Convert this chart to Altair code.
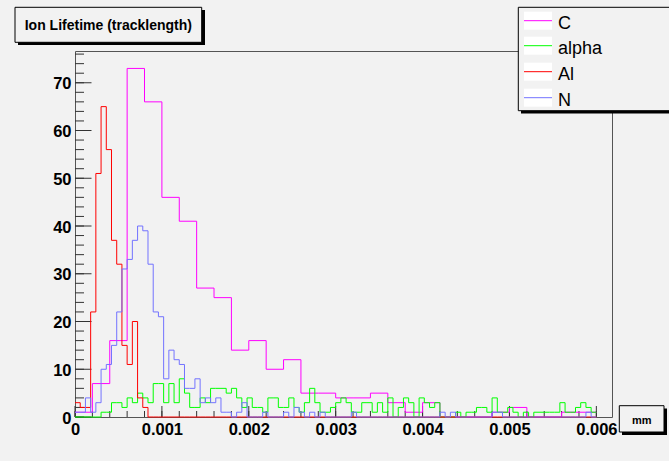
import altair as alt
import pandas as pd

# ---------------- data ----------------
series_names = ["C", "alpha", "Al", "N"]
series_colors = ["#ff00ff", "#00ff00", "#ff0000", "#7373ff"]

c_bin_width = 0.0002      # 30 bins on [0, 0.006]
fine_bin_width = 0.00006  # 100 bins on [0, 0.006]

c_counts = [1, 7, 16, 73, 66, 46, 41, 27, 25, 14,
            16, 10, 12, 5, 5, 4, 4, 5, 3, 1,
            3, 0, 0, 0, 1, 2, 0, 0, 1, 1]

alpha_counts = [0, 0, 0, 0, 0, 1, 1, 3, 3, 2,
                4, 3, 5, 4, 3, 7, 7, 3, 7, 3,
                8, 5, 2, 2, 4, 3, 6, 6, 6, 5,
                6, 4, 2, 4, 2, 2, 1, 4, 4, 2,
                2, 4, 2, 1, 3, 6, 3, 1, 1, 2,
                3, 4, 3, 1, 1, 3, 3, 1, 3, 1,
                4, 0, 2, 4, 3, 0, 4, 3, 2, 3,
                0, 0, 0, 1, 0, 1, 1, 2, 2, 1,
                4, 1, 1, 2, 1, 0, 1, 0, 1, 1,
                1, 1, 1, 3, 1, 1, 2, 3, 2, 1]

al_counts = [3, 2, 2, 22, 51, 65, 56, 37, 32, 15,
             11, 20, 4, 2, 0, 0, 0, 0, 0, 0,
             0, 0, 0, 0, 0, 0, 0, 0, 0, 0,
             0, 0, 0, 0, 0, 0, 0, 0, 0, 0,
             0, 0, 0, 0, 0, 0, 0, 0, 0, 0,
             0, 0, 0, 0, 0, 0, 0, 0, 0, 0,
             0, 0, 0, 0, 0, 0, 0, 0, 0, 0,
             0, 0, 0, 0, 0, 0, 0, 0, 0, 0,
             0, 0, 0, 0, 0, 0, 0, 0, 0, 0,
             0, 0, 0, 0, 0, 0, 0, 0, 0, 0]

n_counts = [1, 1, 4, 1, 3, 10, 11, 15, 22, 31,
            33, 37, 40, 39, 32, 22, 21, 8, 14, 12,
            11, 6, 6, 8, 3, 4, 3, 4, 1, 1,
            0, 1, 3, 0, 0, 0, 1, 0, 0, 0,
            1, 0, 2, 1, 0, 1, 0, 1, 0, 0,
            0, 0, 0, 1, 0, 0, 0, 0, 0, 0,
            0, 0, 0, 0, 0, 0, 0, 0, 0, 0,
            1, 0, 1, 0, 0, 0, 0, 0, 0, 0,
            1, 1, 0, 0, 0, 0, 0, 0, 0, 0,
            0, 0, 0, 0, 0, 0, 0, 0, 1, 0]

x_tick_labels = [0, 0.001, 0.002, 0.003, 0.004, 0.005, 0.006]
x_minor_ticks = [round(i * 0.0002, 4) for i in range(31)]
y_tick_labels = [0, 10, 20, 30, 40, 50, 60, 70]
y_minor_ticks = list(range(0, 77, 2))

title_text = "Ion Lifetime (tracklength)"
x_unit_text = "mm"

x_max = 0.00618
y_max = 76.65

# ---------------- layout constants ----------------
W, H = 537, 366
FONT = "Liberation Sans"
BG = "#f2f2f2"

xscale = alt.Scale(domain=[0, x_max], nice=False, zero=False)
yscale = alt.Scale(domain=[0, y_max], nice=False, zero=False)

xaxis = alt.Axis(values=x_tick_labels, format=".3~f", title=None, ticks=False,
                 tickSize=0, domain=False, grid=False, labelFont=FONT,
                 labelFontWeight="bold", labelFontSize=16.5, labelColor="black",
                 labelPadding=17, labelBaseline="alphabetic", labelFlush=False,
                 labelOverlap=False)
yaxis = alt.Axis(values=y_tick_labels, format="d", title=None, ticks=False,
                 tickSize=0, domain=False, grid=False, labelFont=FONT,
                 labelFontWeight="bold", labelFontSize=16.5, labelColor="black",
                 labelPadding=4, labelFlush=False, labelOverlap=False,
                 labelOffset=1)


def step_frame(name, counts, width):
    xs = [i * width for i in range(len(counts) + 1)]
    ys = list(counts) + [counts[-1]]
    return pd.DataFrame({"x": xs, "count": ys, "series": name})


layers = []

# ticks (inside the frame, ROOT style)
x_major_df = pd.DataFrame({"x": x_tick_labels})
x_minor_df = pd.DataFrame({"x": x_minor_ticks})
y_major_df = pd.DataFrame({"count": y_tick_labels})
y_minor_df = pd.DataFrame({"count": y_minor_ticks})

layers.append(alt.Chart(x_minor_df).mark_rule(color="#333333", strokeWidth=1).encode(
    x=alt.X("x:Q", scale=xscale, axis=xaxis), y=alt.value(H), y2=alt.value(H - 6)))
layers.append(alt.Chart(x_major_df).mark_rule(color="#333333", strokeWidth=1).encode(
    x=alt.X("x:Q", scale=xscale, axis=xaxis), y=alt.value(H), y2=alt.value(H - 11)))
layers.append(alt.Chart(y_minor_df).mark_rule(color="#333333", strokeWidth=1).encode(
    y=alt.Y("count:Q", scale=yscale, axis=yaxis), x=alt.value(0), x2=alt.value(9)))
layers.append(alt.Chart(y_major_df).mark_rule(color="#333333", strokeWidth=1).encode(
    y=alt.Y("count:Q", scale=yscale, axis=yaxis), x=alt.value(0), x2=alt.value(16.5)))

# histograms (drawn in legend order, N on top)
hist_data = [
    step_frame(series_names[0], c_counts, c_bin_width),
    step_frame(series_names[1], alpha_counts, fine_bin_width),
    step_frame(series_names[2], al_counts, fine_bin_width),
    step_frame(series_names[3], n_counts, fine_bin_width),
]
for df, col in zip(hist_data, series_colors):
    layers.append(alt.Chart(df).mark_line(interpolate="step-after", color=col,
                                          strokeWidth=1).encode(
        x=alt.X("x:Q", scale=xscale, axis=xaxis),
        y=alt.Y("count:Q", scale=yscale, axis=yaxis)))

one = pd.DataFrame({"k": [0]})


def rect(x1, y1, x2, y2, fill, stroke=None):
    kw = dict(fill=fill)
    if stroke:
        kw.update(stroke=stroke, strokeWidth=1)
    return alt.Chart(one).mark_rect(**kw).encode(
        x=alt.value(x1), x2=alt.value(x2), y=alt.value(y1), y2=alt.value(y2))


def text(x, y, s, size, weight="normal", align="left"):
    return alt.Chart(one).mark_text(align=align, baseline="alphabetic", font=FONT,
                                    fontSize=size, fontWeight=weight,
                                    color="black").encode(
        x=alt.value(x), y=alt.value(y), text=alt.value(s))


# title box
layers.append(rect(-57, -41, 130, -6, "black"))
layers.append(rect(-60, -43.7, 126.7, -8.7, BG, "black"))
layers.append(text(33.3, -20.7, title_text, 14, "bold", "center"))

# legend box
layers.append(rect(446, -41, 610, 62.5, "black"))
layers.append(rect(443.3, -43.7, 605, 59.7, BG, "black"))
legend_line_y = [-30.3, -5.3, 20.7, 46.7]
for name, col, ly in zip(series_names, series_colors, legend_line_y):
    layers.append(rect(449, ly - 9, 477, ly + 9, "white"))
    layers.append(alt.Chart(one).mark_rule(color=col, strokeWidth=1).encode(
        x=alt.value(449), x2=alt.value(477), y=alt.value(ly)))
    layers.append(text(483, ly + 8.5, name, 18))

# x unit box
layers.append(rect(547, 357.5, 592, 384, "black"))
layers.append(rect(544.3, 354.7, 589, 381, BG, "black"))
layers.append(text(566.7, 373, x_unit_text, 11, "bold", "center"))

chart = alt.layer(*layers).properties(
    width=W, height=H,
    autosize=alt.AutoSizeParams(type="none"),
    padding={"left": 75, "top": 51, "right": 57, "bottom": 44},
).configure(background=BG).configure_view(
    stroke="#555555", strokeWidth=1, fill=BG)

chart.save("out.html", embed_options={"renderer": "svg", "actions": False})
